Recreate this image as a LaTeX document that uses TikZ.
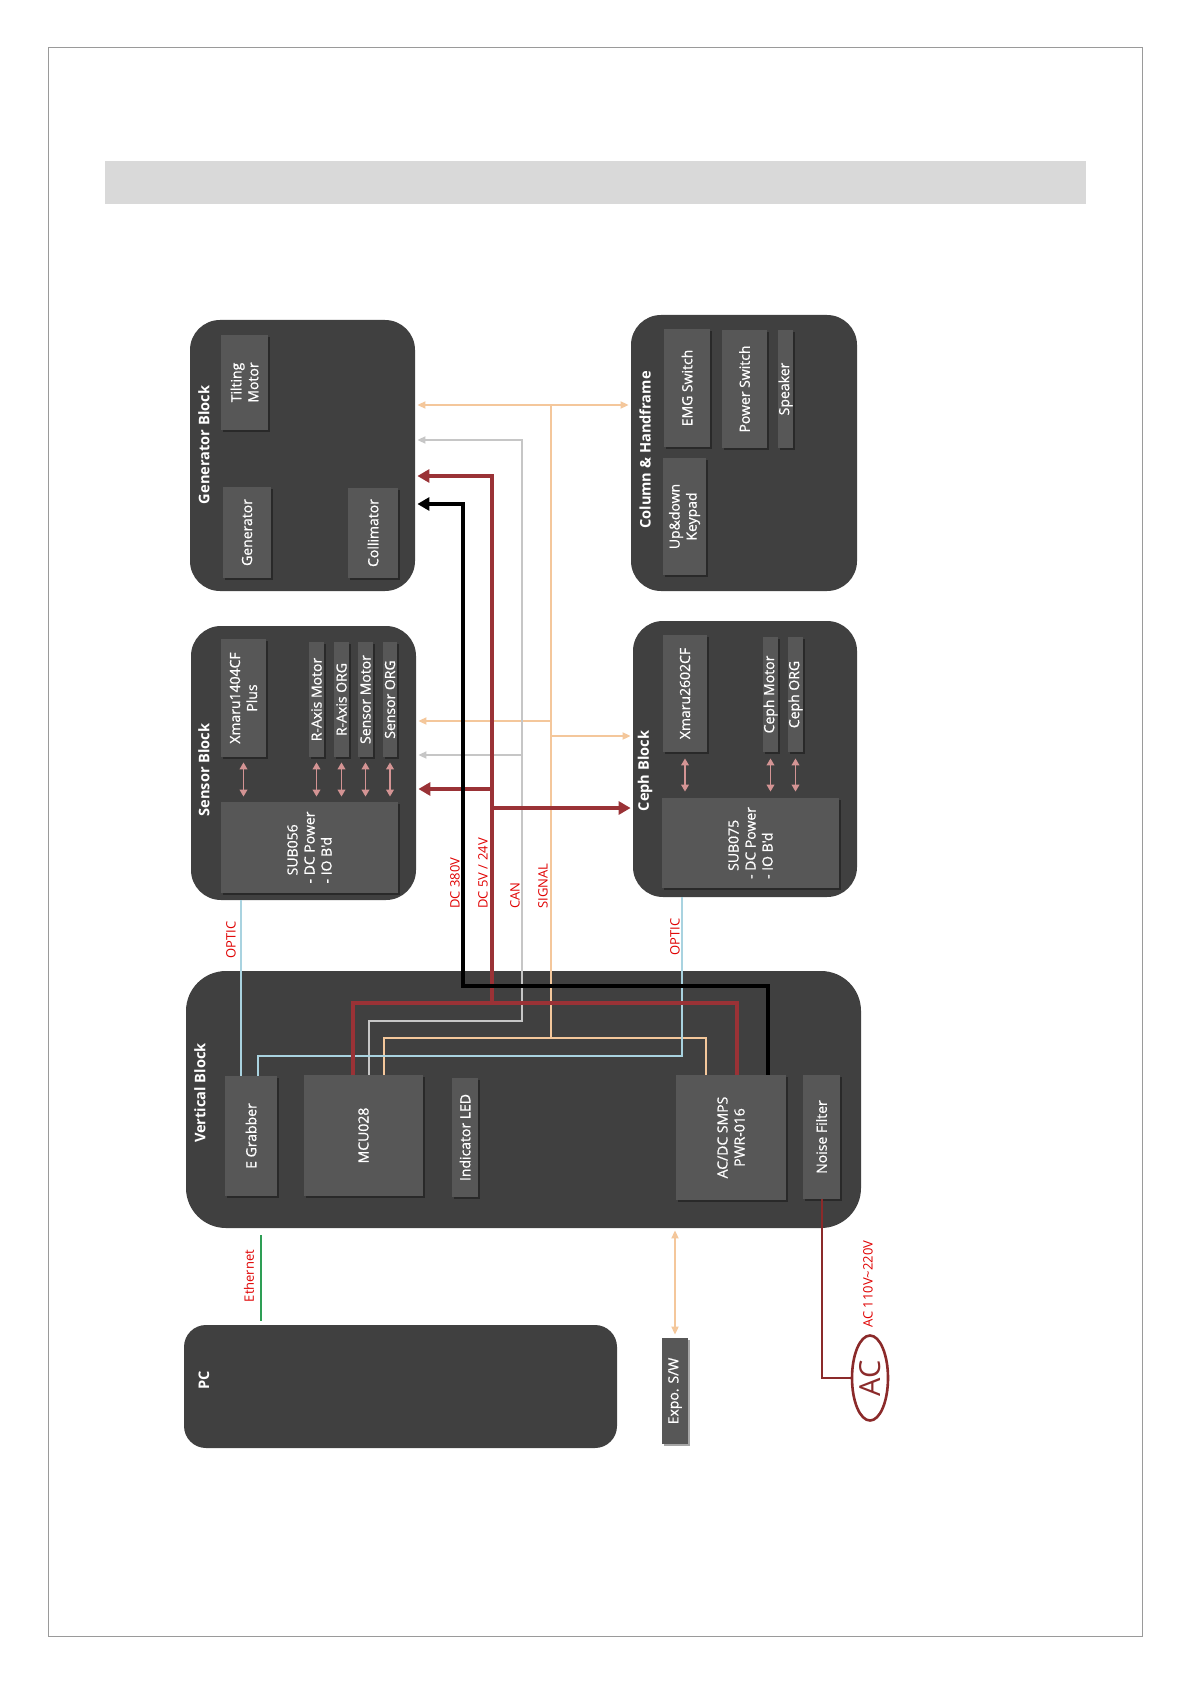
\documentclass[tikz,border=0pt]{standalone}
\usepackage{fontspec}
\setmainfont{Open Sans}
\newfontfamily\semib[FakeBold=0.8]{Open Sans}
\usetikzlibrary{arrows.meta,shapes.geometric,fit,shadows}
\definecolor{blk}{HTML}{404040}
\definecolor{inner}{HTML}{575757}
\definecolor{pwr}{HTML}{9A3236}
\definecolor{sig}{HTML}{F4C79B}
\definecolor{can}{HTML}{C6C6C6}
\definecolor{opt}{HTML}{A9D3E0}
\definecolor{bi}{HTML}{D49494}
\definecolor{lbl}{HTML}{E00000}
\definecolor{eth}{HTML}{2E9E55}
\definecolor{acred}{HTML}{8B2A2A}
\definecolor{frame}{HTML}{9A9A9A}
\definecolor{band}{HTML}{D9D9D9}
\newcommand{\boxfnt}{\semib\fontsize{7}{8.5}\selectfont}
\newcommand{\ttlfnt}{\bfseries\fontsize{7.3}{8.5}\selectfont}
\newcommand{\labfnt}{\fontsize{6.5}{8}\selectfont}
\begin{document}
\begin{tikzpicture}[x=0.5pt,y=-0.5pt,
  blockbox/.style={fill=blk, draw=none, rounded corners=15pt, inner sep=0pt},
  ibox/.style={fill=inner, draw=none, inner sep=0pt,
    drop shadow={shadow xshift=0.8pt, shadow yshift=-0.8pt, opacity=0.35, fill=black}},
  btxt/.style={text=white, font=\boxfnt, rotate=90, align=center, inner sep=0pt},
  ttl/.style={text=white, font=\ttlfnt, rotate=90, inner sep=0pt},
  lab/.style={text=lbl, font=\labfnt, rotate=90, inner sep=0pt},
  wblack/.style={draw=black, line width=1.8pt},
  wred/.style={draw=pwr, line width=1.8pt},
  wcan/.style={draw=can, line width=0.85pt},
  wsig/.style={draw=sig, line width=0.85pt},
  wopt/.style={draw=opt, line width=0.65pt},
  bigtip/.style={-{Triangle[length=6pt,width=6.5pt]}, shorten >=1pt},
  smalltip/.style={-{Triangle[length=4pt,width=3.5pt]}, shorten >=1pt},
  smalltips/.style={{Triangle[length=4pt,width=3.5pt]}-{Triangle[length=4pt,width=3.5pt]}, shorten >=1pt, shorten <=1pt},
  biarrow/.style={draw=bi, line width=0.85pt, {Triangle[length=3.5pt,width=3.8pt]}-{Triangle[length=3.5pt,width=3.8pt]}, shorten >=2.5pt, shorten <=2.5pt},
  acw/.style={draw=acred, line width=0.7pt},
]
\useasboundingbox (0,0) rectangle (1191,1684);
\fill[white] (0,0) rectangle (1191,1684);
\node[draw=frame, line width=0.5pt, inner sep=0pt, fit={(48,48) (1142,1636)}] (page) {};
\node[fill=band, inner sep=0pt, fit={(105,161) (1086,204)}] (bandbox) {};

% blocks
\node[blockbox, fit={(190,320) (415,591)}] (gen) {};
\node[blockbox, fit={(631,315) (857,591)}] (col) {};
\node[blockbox, fit={(191,626) (416,900)}] (sen) {};
\node[blockbox, fit={(633,621) (857,897)}] (ceph) {};
\node[blockbox, rounded corners=20pt, fit={(186,971) (861,1228)}] (vert) {};
\node[blockbox, rounded corners=11pt, fit={(184,1325) (617,1448)}] (pc) {};

% titles
\node[ttl] (gent) at (204,445) {Generator Block};
\node[ttl] (colt) at (645,450) {Column \& Handframe};
\node[ttl] (sent) at (204,770) {Sensor Block};
\node[ttl] (cepht) at (645,771) {Ceph Block};
\node[ttl] (vertt) at (200,1093) {Vertical Block};
\node[ttl] (pct) at (204,1380) {PC};

% inner boxes
\node[ibox, fit={(221,335) (268,430)}] (tilt) {};
\node[ibox, fit={(223,487) (271,578)}] (genr) {};
\node[ibox, fit={(348,488) (398,578)}] (coll) {};
\node[ibox, fit={(664,329) (710,447)}] (emg) {};
\node[ibox, fit={(722,330) (767,448)}] (psw) {};
\node[ibox, fit={(778,330) (793,448)}] (spk) {};
\node[ibox, fit={(663,458) (706,575)}] (key) {};
\node[ibox, fit={(221,639) (266,757)}] (xm1) {};
\node[ibox, fit={(309,642) (324,757)}] (ram) {};
\node[ibox, fit={(334,642) (349,757)}] (rao) {};
\node[ibox, fit={(358,642) (373,757)}] (smo) {};
\node[ibox, fit={(383,642) (397,757)}] (sor) {};
\node[ibox, fit={(221,802) (398,893)}] (sub56) {};
\node[ibox, fit={(663,635) (707,752)}] (xm2) {};
\node[ibox, fit={(763,637) (778,752)}] (cmo) {};
\node[ibox, fit={(788,637) (803,752)}] (cor) {};
\node[ibox, fit={(662,798) (839,888)}] (sub75) {};
\node[ibox, fit={(225,1076) (277,1196)}] (egr) {};
\node[ibox, fit={(304,1075) (423,1196)}] (mcu) {};
\node[ibox, fit={(452,1078) (478,1197)}] (led) {};
\node[ibox, fit={(676,1075) (786,1200)}] (smps) {};
\node[ibox, fit={(803,1075) (840,1199)}] (nf) {};
\node[ibox, fit={(662,1338) (688,1444)}] (expo) {};

% inner box texts
\node[btxt] (tilt-t) at (tilt.center) {Tilting\\Motor};
\node[btxt] (genr-t) at (genr.center) {Generator};
\node[btxt] (coll-t) at (coll.center) {Collimator};
\node[btxt] (emg-t) at (emg.center) {EMG Switch};
\node[btxt] (psw-t) at (psw.center) {Power Switch};
\node[btxt] (spk-t) at (spk.center) {Speaker};
\node[btxt] (key-t) at (key.center) {Up\&down\\Keypad};
\node[btxt] (xm1-t) at (xm1.center) {Xmaru1404CF\\Plus};
\node[btxt] (ram-t) at (ram.center) {R-Axis Motor};
\node[btxt] (rao-t) at (rao.center) {R-Axis ORG};
\node[btxt] (smo-t) at (smo.center) {Sensor Motor};
\node[btxt] (sor-t) at (sor.center) {Sensor ORG};
\node[btxt, align=left] (sub56-t) at (sub56.center) {\phantom{- }SUB056\\- DC Power\\- IO B'd};
\node[btxt] (xm2-t) at (xm2.center) {Xmaru2602CF};
\node[btxt] (cmo-t) at (cmo.center) {Ceph Motor};
\node[btxt] (cor-t) at (cor.center) {Ceph ORG};
\node[btxt, align=left] (sub75-t) at (sub75.center) {\phantom{- }SUB075\\- DC Power\\- IO B'd};
\node[btxt] (egr-t) at (egr.center) {E Grabber};
\node[btxt] (mcu-t) at (mcu.center) {MCU028};
\node[btxt] (led-t) at (led.center) {Indicator LED};
\node[btxt] (smps-t) at (smps.center) {AC/DC SMPS\\PWR-016};
\node[btxt] (nf-t) at (nf.center) {Noise Filter};
\node[btxt] (expo-t) at (expo.center) {Expo. S/W};

% internal double arrows
\foreach \b in {xm1,ram,rao,smo,sor}
  \draw[biarrow] (\b.south) -- (\b.south |- sub56.north);
\foreach \b in {xm2,cmo,cor}
  \draw[biarrow, shorten >=3pt, shorten <=3pt] (\b.south) -- (\b.south |- sub75.north);

% SIGNAL (orange)
\coordinate (s1) at (384,1038); \coordinate (s2) at (706,1038);
\draw[wsig] (mcu.north -| s1) -- (s1) -- (s2) -- (smps.north -| s2);
\coordinate (s3) at (551,1038); \coordinate (s4) at (551,405);
\draw[wsig] (s3) -- (s4);
\draw[wsig, smalltips] (s4 -| gen.east) -- (s4 -| col.west);
\coordinate (s5) at (551,721); \coordinate (s6) at (551,736);
\draw[wsig, smalltip] (s5) -- (s5 -| sen.east);
\draw[wsig, smalltip] (s6) -- (s6 -| ceph.west);

% CAN (gray)
\coordinate (g1) at (369,1021); \coordinate (g2) at (522,1021);
\coordinate (g3) at (522,440); \coordinate (g4) at (522,755);
\draw[wcan, smalltip] (mcu.north -| g1) -- (g1) -- (g2) -- (g3) -- (g3 -| gen.east);
\draw[wcan, smalltip] (g4) -- (g4 -| sen.east);

% OPTIC (light blue)
\coordinate (o1) at (241,0);
\draw[wopt] (sen.south -| o1) -- (egr.north -| o1);
\coordinate (o2) at (258,1056); \coordinate (o3) at (682,1056);
\draw[wopt] (egr.north -| o2) -- (o2) -- (o3) -- (ceph.south -| o3);

% DC 5V / 24V (red)
\coordinate (r1) at (737,1003); \coordinate (r2) at (353,1003);
\draw[wred] (smps.north -| r1) -- (r1) -- (r2) -- (mcu.north -| r2);
\coordinate (r3) at (492,1003); \coordinate (r4) at (492,476);
\draw[wred, bigtip] (r3) -- (r4) -- (r4 -| gen.east);
\coordinate (r5) at (492,789); \coordinate (r6) at (492,808);
\draw[wred, bigtip] (r5) -- (r5 -| sen.east);
\draw[wred, bigtip] (r6) -- (r6 -| ceph.west);

% DC 380V (black)
\coordinate (k1) at (768,986); \coordinate (k2) at (463,986); \coordinate (k3) at (463,504);
\draw[wblack, bigtip] (smps.north -| k1) -- (k1) -- (k2) -- (k3) -- (k3 -| gen.east);

% Expo arrow
\draw[wsig, smalltips, shorten <=1pt, shorten >=1.5pt] (vert.south -| expo.north) -- (expo.north);

% Ethernet
\coordinate (e1) at (261,0);
\draw[draw=eth, line width=0.9pt, shorten <=3.5pt, shorten >=2pt] (vert.south -| e1) -- (pc.north -| e1);

% AC
\node[ellipse, draw=acred, line width=1.3pt, minimum width=18pt, minimum height=42.5pt, inner sep=0pt] (ac) at (870,1378) {};
\node[text=acred, font=\fontsize{14.5}{16}\selectfont, rotate=90, inner sep=0pt] (ac-t) at (ac.center) {AC};
\coordinate (a1) at (822,1378);
\draw[acw] (nf.south -| a1) -- (a1) -- (ac.west);

% labels
\node[lab, anchor=west] (l380) at (455,909) {DC 380V};
\node[lab, anchor=west] (l524) at (483,909) {DC 5V / 24V};
\node[lab, anchor=west] (lcan) at (515,909) {CAN};
\node[lab, anchor=west] (lsig) at (543,909) {SIGNAL};
\node[lab] (lop1) at (231,940) {OPTIC};
\node[lab] (lop2) at (675,937) {OPTIC};
\node[lab] (leth) at (249,1276) {Ethernet};
\node[lab, anchor=west] (lac) at (868,1328) {AC 110V\textasciitilde220V};
\end{tikzpicture}
\end{document}
